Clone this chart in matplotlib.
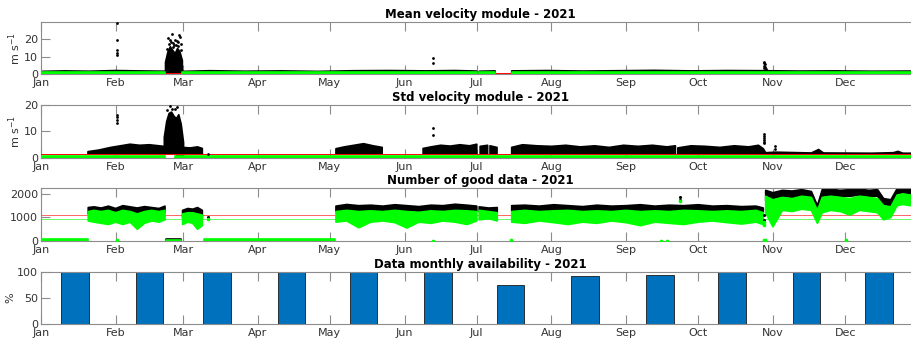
import matplotlib
matplotlib.use('Agg')
import matplotlib.pyplot as plt
import matplotlib.dates as mdates
import numpy as np

nan = np.nan

# ---- Mean velocity module (m/s), day of year 2021 ----
mean_days = [0, 10, 20, 31, 40, 51.4, 51.6, 58.4, 58.6, 70, 85, 100, 115, 130, 145, 160, 172, 181,
             181.5, 182, 188.6, 189, 195.5, 210, 225, 240, 255, 270, 285, 300, 315, 330, 345, 364]
mean_blk_hi = [1.5, 1.8, 1.6, 2.0, 1.8, 1.6, nan, nan, 1.5, 1.9, 1.6, 1.8, 1.5, 1.9, 2.0, 1.8, 2.0, 1.7,
               nan, 1.6, 1.8, nan, 1.8, 2.0, 1.7, 1.9, 2.1, 1.8, 2.0, 1.9, 1.7, 1.8, 1.6, 1.7]
mean_grn_hi = [0.9, 0.9, 0.9, 0.9, 0.9, 0.9, nan, nan, 0.9, 0.9, 0.9, 0.9, 0.9, 0.9, 0.9, 0.9, 0.9, 0.9,
               nan, 0.9, 0.9, nan, 0.9, 0.9, 0.9, 0.9, 0.9, 0.9, 0.9, 0.9, 0.9, 0.9, 0.9, 0.9]
mean_burst_days = [51.5, 52.5, 53.5, 54.5, 55.5, 56.5, 57.5, 58.5]
mean_burst_hi = [7, 13, 16, 14, 12, 15, 13, 8]
mean_out_days = [31.7, 31.7, 31.7, 31.7, 31.7, 52.8, 54.2, 55.8, 57.2, 57.8, 53.6, 56.4,
                 52.2, 53.1, 54.8, 55.2, 56.0, 57.0, 58.2, 52.6, 54.0, 56.8, 58.0, 55.0,
                 163, 163, 300.5, 300.5, 300.8, 300.5, 300.8, 300.5, 301]
mean_out_vals = [29.5, 19.5, 13.7, 12.2, 11.2, 20.5, 23.2, 19.8, 22.7, 21.2, 19.6, 18.9,
                 14.5, 17.5, 18.0, 16.5, 17.0, 18.2, 14.0, 11.0, 18.6, 16.0, 17.2, 15.5,
                 9.3, 6.5, 7.0, 6.2, 5.5, 4.8, 4.2, 3.5, 3.0]
mean_red = 0.4

# ---- Std velocity module (m/s) ----
std_days = [19.5, 24, 29, 33, 37, 41, 45, 49, 51, 55, 59, 62, 65, 67, 67.5,
            122.5, 126, 130, 134, 138, 141.7, 142,
            158.7, 162, 166, 170, 174, 178, 181, 181.5, 182.4, 185.5, 186, 186.5, 189.4, 190,
            195.5, 200, 206, 212, 218, 224, 230, 236, 242, 248, 254, 260, 263.5, 264, 264.5,
            270, 276, 282, 288, 294, 298, 300, 301, 305, 320, 323, 325, 345, 354, 356, 358, 364]
std_blk_hi = [2.4, 3.0, 4.0, 4.6, 5.2, 4.8, 5.0, 4.6, 4.4, 4.2, 4.0, 3.8, 4.2, 3.6, nan,
              3.5, 4.2, 4.8, 5.4, 4.6, 4.0, nan,
              3.6, 4.2, 4.8, 4.5, 5.0, 4.6, 5.2, nan, 4.4, 4.8, nan, 4.6, 4.0, nan,
              4.0, 5.0, 4.6, 4.4, 4.8, 4.2, 4.6, 4.0, 4.8, 4.4, 4.8, 4.2, 4.6, nan, 3.8,
              4.6, 4.4, 4.0, 4.6, 4.2, 4.8, 3.5, 2.0, 2.2, 1.9, 3.2, 1.9, 1.8, 2.0, 2.5, 1.8, 1.8]
std_burst_days = [51, 52, 53, 54, 55, 56, 57, 58, 59]
std_burst_hi = [8, 14, 17, 17.5, 16, 15, 16.5, 13, 6]
std_burst_lo = [1.5, 2.5, 3, 3, 2.5, 1.5, 0.5, 0, 1]
std_grn_days = [0, 51.5, 51.6, 55.4, 55.5, 364]
std_grn_hi = [0.6, 0.6, nan, nan, 0.6, 0.6]
std_out_days = [31.7, 31.7, 31.7, 31.7, 53.5, 55.5, 56.5, 54.5, 52.5, 163, 163,
                300.3, 300.3, 300.3, 300.5, 300.3, 300.5, 305, 305, 69.5]
std_out_vals = [16.2, 15.4, 14.3, 13.1, 19.7, 18.6, 19.2, 18.4, 18.0, 11.4, 8.7,
                9.0, 8.3, 7.6, 6.9, 6.2, 5.5, 4.5, 3.5, 1.6]
std_red = 1.4

# ---- Number of good data ----
cnt_days = [19.6, 22, 25, 28, 31, 34, 37, 40, 43, 46, 49, 51.5, 51.7,
            52, 58.3, 58.5,
            58.8, 61, 63, 65, 67, 67.3,
            122.5, 127, 132, 137, 142, 147, 152, 157, 162, 167, 172, 177, 181, 181.5,
            182, 186, 189.5, 190,
            195.5, 201, 207, 213, 219, 225, 231, 237, 243, 249, 255, 261, 267, 273, 279, 285, 291, 297, 300, 300.4,
            301, 304, 308, 312, 316, 320, 322.5, 324.5, 328, 332, 336, 340, 344, 347.5, 350, 353, 355.6, 358, 361, 364]
cnt_blk_hi = [1420, 1450, 1400, 1480, 1380, 1500, 1450, 1400, 1460, 1420, 1380, 1480, nan,
              90, 90, nan,
              1300, 1380, 1350, 1420, 1300, nan,
              1480, 1550, 1500, 1520, 1480, 1540, 1500, 1460, 1520, 1500, 1560, 1520, 1480, nan,
              1450, 1400, 1420, nan,
              1500, 1520, 1480, 1540, 1500, 1460, 1520, 1480, 1500, 1540, 1480, 1520, 1500, 1540, 1480, 1500, 1460, 1480, 1400, nan,
              2150, 2050, 2150, 2120, 2180, 2100, 1500, 2180, 2200, 2150, 2180, 2200, 2150, 2180, 1800, 1750, 2220, 2230, 2220, 2240]
cnt_blk_lo = [1150, 1200, 1180, 1150, 1100, 1200, 1150, 1050, 1150, 1200, 1150, 1200, nan,
              0, 0, nan,
              1000, 1150, 1100, 1050, 1000, nan,
              1250, 1250, 1250, 1250, 1250, 1250, 1250, 1250, 1250, 1250, 1250, 1250, 1250, nan,
              1250, 1250, 1250, nan,
              1250, 1250, 1250, 1250, 1250, 1250, 1250, 1250, 1250, 1250, 1250, 1250, 1250, 1250, 1250, 1250, 1250, 1250, 1200, nan,
              1700, 1800, 1900, 1850, 1900, 1850, 1300, 1900, 1950, 1900, 1900, 1950, 1900, 1900, 1550, 1500, 2000, 2050, 2000, 2050]
cnt_grn_hi = [1250, 1300, 1250, 1300, 1200, 1300, 1250, 1150, 1250, 1300, 1250, 1300, nan,
              60, 60, nan,
              1150, 1200, 1200, 1150, 1100, nan,
              1250, 1300, 1250, 1280, 1250, 1300, 1250, 1220, 1280, 1250, 1300, 1280, 1250, nan,
              1300, 1250, 1200, nan,
              1250, 1300, 1250, 1280, 1300, 1250, 1280, 1250, 1300, 1250, 1280, 1250, 1300, 1280, 1250, 1280, 1250, 1300, 1200, nan,
              1900, 1750, 1850, 1800, 1900, 1850, 1300, 1850, 1900, 1850, 1800, 1900, 1850, 1800, 1500, 1450, 1950, 2000, 1950, 2000]
cnt_grn_lo = [850, 800, 750, 700, 800, 700, 800, 500, 750, 850, 800, 900, nan,
              0, 0, nan,
              700, 800, 750, 500, 650, nan,
              800, 850, 560, 800, 850, 780, 550, 800, 750, 850, 800, 700, 850, nan,
              900, 950, 850, nan,
              800, 750, 850, 780, 700, 800, 750, 850, 780, 650, 800, 750, 700, 800, 850, 780, 720, 800, 700, nan,
              1200, 600, 1300, 1250, 1350, 1300, 750, 1200, 1300, 1250, 1100, 1300, 1250, 1200, 900, 1000, 1500, 1550, 1500, 1550]
cnt_low_days = [0, 19.5, 19.6, 67.4, 67.5, 122.3]
cnt_low_hi = [80, 80, nan, nan, 75, 75]
cnt_blk_out_days = [69.5, 265.5, 265.5, 300.2, 300.2]
cnt_blk_out_vals = [1040, 1885, 1745, 1100, 900]
cnt_grn_out_days = [31.7, 163, 195.3, 257.6, 260, 300.4, 300.8, 334.4, 69.5, 265.5, 300.2, 300.5]
cnt_grn_out_vals = [30, 20, 40, 20, 20, 40, 60, 40, 940, 1700, 800, 700]
cnt_red = 1090
cnt_green = 930

# ---- Monthly availability (%) ----
month_mid_days = [14, 45, 73, 104, 134, 165, 195, 226, 257, 287, 318, 348]
availability = [100, 100, 100, 100, 100, 100, 76, 92, 94, 100, 100, 100]

BLACK = '#000000'
GREEN = '#00ff00'
RED = '#ff0000'
BLUE = '#0072bd'
AXC = '#8c8c8c'
TXT = '#333333'


def dates(days):
    d = np.asarray(days, dtype=float)
    return np.datetime64('2021-01-01T00:00') + (d * 1440).round().astype('timedelta64[m]')


def band(ax, days, lo, hi, color, z):
    ax.fill_between(dates(days), np.asarray(lo, float), np.asarray(hi, float),
                    facecolor=color, edgecolor=color, linewidth=1.2, zorder=z)


def style(ax, title, yticks, ylim, ylabel=None):
    ax.set_xlim(np.datetime64('2021-01-01T00:00'), np.datetime64('2021-12-31T23:00'))
    ax.set_ylim(*ylim)
    ax.set_yticks(yticks)
    ax.xaxis.set_major_locator(mdates.MonthLocator())
    ax.xaxis.set_major_formatter(mdates.DateFormatter('%b'))
    ax.tick_params(direction='in', top=True, right=True, length=6.5, width=0.8,
                   colors=AXC, labelcolor=TXT, labelsize=8, pad=2)
    ax.tick_params(axis='x', pad=3)
    for s in ax.spines.values():
        s.set_color(AXC)
        s.set_linewidth(0.8)
    ax.set_title(title, fontsize=8.5, fontweight='bold', pad=3)
    if ylabel:
        ax.set_ylabel(ylabel, fontsize=8, color=TXT, labelpad=1)


fig = plt.figure(figsize=(9.12, 3.42), dpi=100)
L, W = 0.045, 0.9634
ax1 = fig.add_axes([L, 0.7836, W, 0.152])
ax2 = fig.add_axes([L, 0.538, W, 0.155])
ax3 = fig.add_axes([L, 0.2953, W, 0.155])
ax4 = fig.add_axes([L, 0.0526, W, 0.152])

# panel 1
band(ax1, mean_days, [0.3] * len(mean_days), mean_blk_hi, BLACK, 2)
band(ax1, mean_burst_days, [0] * len(mean_burst_days), mean_burst_hi, BLACK, 2)
ax1.axhline(mean_red, color=RED, lw=0.7, zorder=3)
band(ax1, mean_days, [0] * len(mean_days), mean_grn_hi, GREEN, 4)
ax1.scatter(dates(mean_out_days), mean_out_vals, s=4, color=BLACK, zorder=5, linewidths=0)
style(ax1, 'Mean velocity module - 2021', [0, 10, 20], (0, 30), 'm s$^{-1}$')

# panel 2
band(ax2, std_days, [1.5] * len(std_days), std_blk_hi, BLACK, 2)
band(ax2, std_burst_days, std_burst_lo, std_burst_hi, BLACK, 2)
ax2.axhline(std_red, color=RED, lw=0.7, zorder=3)
band(ax2, std_grn_days, [0] * len(std_grn_days), std_grn_hi, GREEN, 4)
ax2.scatter(dates(std_out_days), std_out_vals, s=4, color=BLACK, zorder=5, linewidths=0)
style(ax2, 'Std velocity module - 2021', [0, 10, 20], (0, 20), 'm s$^{-1}$')

# panel 3
ax3.axhline(cnt_red, color=RED, lw=0.7, alpha=0.6, zorder=1)
ax3.axhline(cnt_green, color=GREEN, lw=0.7, alpha=0.6, zorder=1)
band(ax3, cnt_days, cnt_blk_lo, cnt_blk_hi, BLACK, 2)
band(ax3, cnt_days, cnt_grn_lo, cnt_grn_hi, GREEN, 4)
band(ax3, cnt_low_days, [15] * len(cnt_low_days), cnt_low_hi, GREEN, 4)
ax3.scatter(dates(cnt_blk_out_days), cnt_blk_out_vals, s=5, color=BLACK, zorder=5, linewidths=0)
ax3.scatter(dates(cnt_grn_out_days), cnt_grn_out_vals, s=7, color=GREEN, zorder=5, linewidths=0)
style(ax3, 'Number of good data - 2021', [0, 1000, 2000], (0, 2250))

# panel 4
ax4.bar(dates(month_mid_days), availability, width=11.5, color=BLUE,
        edgecolor='#1a1a1a', linewidth=0.6, zorder=2)
style(ax4, 'Data monthly availability - 2021', [0, 50, 100], (0, 100), '%')

fig.savefig('out.png', dpi=100)
